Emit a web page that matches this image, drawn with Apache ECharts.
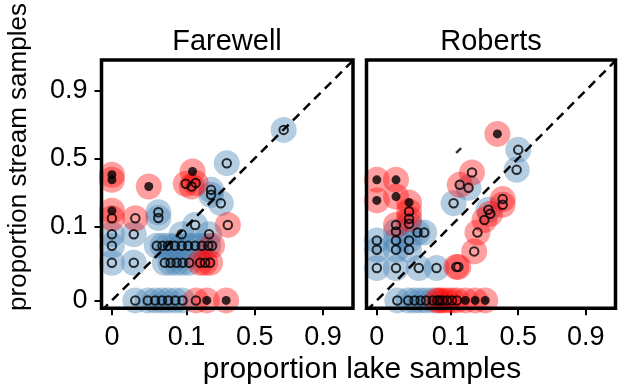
<!DOCTYPE html>
<html><head><meta charset="utf-8">
<script src="https://cdn.jsdelivr.net/npm/echarts@6/dist/echarts.min.js"></script>
<style>html,body{margin:0;padding:0;background:#fff}#c{width:618px;height:389px}</style>
</head><body><div id="c"></div>
<script>
// ---- data: [proportion lake samples, proportion stream samples] ----
const panelNames = ['Farewell', 'Roberts'];
const tickValues = [0, 0.1, 0.5, 0.9];
const tickLabels = ['0', '0.1', '0.5', '0.9'];
const xTitle = 'proportion lake samples';
const yTitle = 'proportion stream samples';

const farewellRedFilled = [[0,0.37],[0,0.333],[0,0.155],[0.032,0.287],[0.119,0.395],[0.176,0],[0.285,0]];
const farewellRedOpen = [[0,0.126],[0.021,0.126],[0.098,0.305],[0.116,0.287],[0.130,0.31],[0.296,0.104],
  [0.202,0.056],[0.147,0.033],[0.168,0.033],[0.192,0.033],[0.131,0]];
const farewellBlueOpen = [[0.717,0.715],[0.289,0.461],[0.197,0.265],[0.197,0.235],[0.251,0.19],[0.043,0.149],[0.043,0.127],[0.128,0.104],
  [0,0.079],[0.02,0.079],[0.087,0.079],[0.187,0.079],
  [0,0.056],[0.041,0.056],[0.049,0.056],[0.058,0.056],[0.071,0.056],[0.087,0.056],[0.105,0.056],[0.128,0.056],[0.154,0.056],[0.183,0.056],
  [0,0.033],[0.02,0.033],[0.0525,0.033],[0.0625,0.033],[0.075,0.033],[0.0895,0.033],[0.108,0.033],
  [0.021,0],[0.031,0],[0.039,0],[0.048,0],[0.058,0],[0.072,0],[0.089,0]];

const robertsRedFilled = [[0,0.333],[0.0185,0.333],[0,0.204],[0.0185,0.225],[0.028,0.193],[0.337,0.688],[0.152,0],[0.198,0],[0.255,0]];
const robertsRedOpen = [[0.028,0.152],[0.028,0.124],[0.0185,0.104],[0.182,0.387],[0.13,0.298],[0.376,0.211],[0.376,0.182],[0.287,0.143],
  [0.25,0.12],[0.21,0.083],[0.193,0.047],[0.118,0.029],[0.125,0.029],
  [0.067,0],[0.072,0],[0.079,0],[0.09,0],[0.104,0],[0.12,0]];
const robertsBlueOpen = [[0.5,0.568],[0.487,0.408],[0.166,0.278],[0.109,0.19],[0.275,0.159],[0.028,0.1075],[0.0185,0.0858],[0.0366,0.0833],[0.0449,0.0833],
  [0,0.0656],[0.0185,0.0656],[0.028,0.0656],[0,0.0494],[0.0185,0.0494],[0.028,0.0494],
  [0,0.028],[0.0185,0.028],[0.038,0.028],[0.0656,0.028],
  [0.0193,0],[0.0273,0],[0.0333,0],[0.0402,0],[0.0477,0],[0.0586,0]];
const robertsDash = [[0.126,0.563]];

const panelData = [
  {redFilled: farewellRedFilled, redOpen: farewellRedOpen, blueOpen: farewellBlueOpen, dash: []},
  {redFilled: robertsRedFilled, redOpen: robertsRedOpen, blueOpen: robertsBlueOpen, dash: robertsDash}
];

// logit scale with proportions clipped to [0.01, 0.99]
function tr(p) { const q = Math.min(Math.max(p, 0.01), 0.99); return Math.log(q / (1 - q)); }
const tickT = tickValues.map(tr);
function fmt(v) {
  let best = 0;
  for (let i = 1; i < tickT.length; i++) if (Math.abs(tickT[i] - v) < Math.abs(tickT[best] - v)) best = i;
  return tickLabels[best];
}
const X_MIN = -4.93, X_MAX = 3.16, Y_MIN = -4.85, Y_MAX = 3.18;
const FONT = "'Liberation Sans', Arial, sans-serif";

const grids = [
  {left: 101.5, top: 60, width: 251.5, height: 248.3},
  {left: 366.5, top: 60, width: 249, height: 248.3}
].map(g => Object.assign(g, {show: true, borderColor: '#000', borderWidth: 3.5, backgroundColor: 'rgba(0,0,0,0)', z: 10}));

const tickStyle = {show: true, inside: false, length: 7, customValues: tickT, lineStyle: {color: '#000', width: 2}};
const xAxes = [0, 1].map(i => ({
  type: 'value', gridIndex: i, min: X_MIN, max: X_MAX,
  axisLine: {show: false, onZero: false}, splitLine: {show: false},
  axisTick: tickStyle,
  axisLabel: {show: true, customValues: tickT, formatter: fmt, fontSize: 27, fontFamily: FONT, color: '#000', margin: 16}
}));
const yAxes = [0, 1].map(i => ({
  type: 'value', gridIndex: i, min: Y_MIN, max: Y_MAX,
  axisLine: {show: false, onZero: false}, splitLine: {show: false},
  axisTick: Object.assign({}, tickStyle, {show: i === 0}),
  axisLabel: {show: i === 0, customValues: tickT, formatter: fmt, fontSize: 27, fontFamily: FONT, color: '#000', margin: 14}
}));

const toXY = arr => arr.map(d => [tr(d[0]), tr(d[1])]);
const series = [];
panelData.forEach((pd, i) => {
  const base = {type: 'scatter', xAxisIndex: i, yAxisIndex: i, symbol: 'circle', silent: true, clip: true};
  series.push(Object.assign({}, base, {data: toXY(pd.blueOpen), symbolSize: 26, itemStyle: {color: 'rgba(70,130,180,0.5)'}, z: 2}));
  series.push(Object.assign({}, base, {data: toXY(pd.redOpen.concat(pd.redFilled)), symbolSize: 26, itemStyle: {color: 'rgba(255,0,0,0.47)'}, z: 2}));
  series.push(Object.assign({}, base, {data: toXY(pd.blueOpen.concat(pd.redOpen)), symbolSize: 8.5,
    itemStyle: {color: 'rgba(0,0,0,0)', borderColor: '#000', borderWidth: 2}, z: 3}));
  series.push(Object.assign({}, base, {data: toXY(pd.redFilled), symbolSize: 9, itemStyle: {color: '#000'}, z: 3}));
  if (pd.dash.length) series.push(Object.assign({}, base, {data: toXY(pd.dash), symbol: 'rect', symbolSize: [7, 2.5], symbolRotate: 45, itemStyle: {color: '#000'}, z: 4}));
  series.push({type: 'line', xAxisIndex: i, yAxisIndex: i, silent: true, clip: true, symbol: 'none',
    data: [[X_MIN, X_MIN], [X_MAX, X_MAX]], lineStyle: {color: '#000', width: 2.5, type: [9, 6]}, z: 5});
});

const textStyle = (t, size) => ({text: t, font: size + 'px ' + FONT, fill: '#000', textAlign: 'center', textVerticalAlign: 'middle'});
const graphic = [
  {type: 'text', x: 227, y: 42, style: textStyle(panelNames[0], 29)},
  {type: 'text', x: 491, y: 42, style: textStyle(panelNames[1], 29)},
  {type: 'text', x: 362, y: 370, style: textStyle(xTitle, 30)},
  {type: 'text', x: 19, y: 157, rotation: Math.PI / 2, style: textStyle(yTitle, 26)}
];

const chart = echarts.init(document.getElementById('c'), null, {renderer: 'canvas'});
chart.setOption({animation: false, grid: grids, xAxis: xAxes, yAxis: yAxes, series: series, graphic: graphic});
</script></body></html>
